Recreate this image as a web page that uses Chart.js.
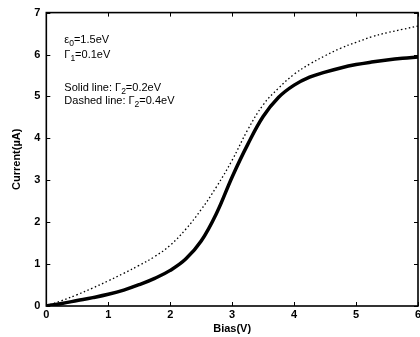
<!DOCTYPE html>
<html>
<head>
<meta charset="utf-8">
<script src="https://cdn.jsdelivr.net/npm/chart.js@4.4.1/dist/chart.umd.min.js"></script>
<style>
  html, body { margin: 0; padding: 0; background: #fff; overflow: hidden; }
  #wrap { width: 430px; height: 337px; }
</style>
</head>
<body>
<div id="wrap"><canvas id="ivChart"></canvas></div>
<script>
// bias points (V)
const bias = [0, 0.25, 0.5, 0.75, 1, 1.25, 1.5, 1.75, 2, 2.25, 2.5, 2.75, 3,
              3.25, 3.5, 3.75, 4, 4.25, 4.5, 4.75, 5, 5.25, 5.5, 5.75, 6];
// Gamma2 = 0.2 eV (solid)
const currentSolid = [0, 0.06, 0.13, 0.20, 0.28, 0.38, 0.51, 0.66, 0.85, 1.12, 1.55, 2.22, 3.08,
                      3.85, 4.52, 4.98, 5.27, 5.46, 5.58, 5.68, 5.76, 5.82, 5.87, 5.91, 5.94];
// Gamma2 = 0.4 eV (dashed)
const currentDashed = [0, 0.13, 0.27, 0.43, 0.60, 0.78, 0.97, 1.18, 1.45, 1.83, 2.30, 2.85, 3.48,
                       4.20, 4.80, 5.20, 5.53, 5.77, 5.97, 6.15, 6.29, 6.42, 6.52, 6.60, 6.68];
const xTicks = [0, 1, 2, 3, 4, 5, 6];
const yTicks = [0, 1, 2, 3, 4, 5, 6, 7];

const toPoints = ys => bias.map((b, i) => ({ x: b, y: ys[i] }));

// inward ticks on all four sides + frame
const frameTicks = {
    id: 'frameTicks',
    afterDraw(chart) {
        const { ctx, chartArea: a, scales } = chart;
        ctx.save();
        ctx.strokeStyle = '#000';
        ctx.lineWidth = 1;
        xTicks.forEach(v => {
            const px = Math.round(scales.x.getPixelForValue(v)) + 0.5;
            ctx.beginPath();
            ctx.moveTo(px, a.bottom); ctx.lineTo(px, a.bottom - 4);
            ctx.moveTo(px, a.top); ctx.lineTo(px, a.top + 4);
            ctx.stroke();
        });
        yTicks.forEach(v => {
            const py = Math.round(scales.y.getPixelForValue(v)) + 0.5;
            ctx.beginPath();
            ctx.moveTo(a.left, py); ctx.lineTo(a.left + 4, py);
            ctx.moveTo(a.right, py); ctx.lineTo(a.right - 4, py);
            ctx.stroke();
        });
        ctx.lineWidth = 1.6;
        ctx.strokeRect(a.left, a.top, a.right - a.left, a.bottom - a.top);
        ctx.restore();
    }
};

// parameter notes, with subscripts
const notes = {
    id: 'notes',
    afterDraw(chart) {
        const { ctx, chartArea: a } = chart;
        const lines = [
            [18, 30, [['ε', 0], ['0', 1], ['=1.5eV', 0]]],
            [18, 45, [['Γ', 0], ['1', 1], ['=0.1eV', 0]]],
            [18, 78, [['Solid line: Γ', 0], ['2', 1], ['=0.2eV', 0]]],
            [18, 91, [['Dashed line: Γ', 0], ['2', 1], ['=0.4eV', 0]]]
        ];
        ctx.save();
        ctx.fillStyle = '#000';
        ctx.textBaseline = 'alphabetic';
        lines.forEach(([dx, dy, parts]) => {
            let x = a.left + dx;
            const y = a.top + dy;
            parts.forEach(([t, sub]) => {
                ctx.font = sub ? '8.5px "Liberation Sans"' : '11px "Liberation Sans"';
                ctx.fillText(t, x, sub ? y + 3 : y);
                x += ctx.measureText(t).width;
            });
        });
        ctx.restore();
    }
};

const ctx = document.getElementById('ivChart').getContext('2d');
const ivChart = new Chart(ctx, {
    type: 'line',
    data: {
        datasets: [{
            data: toPoints(currentSolid),
            borderColor: '#000',
            borderWidth: 3.5,
            pointRadius: 0,
            tension: 0.4
        }, {
            data: toPoints(currentDashed),
            borderColor: '#000',
            borderWidth: 1.3,
            borderDash: [1.5, 2.5],
            pointRadius: 0,
            tension: 0.4
        }]
    },
    options: {
        responsive: true,
        maintainAspectRatio: false,
        animation: false,
        layout: { padding: { left: 5, top: 12, right: 12, bottom: 3 } },
        plugins: {
            legend: { display: false },
            tooltip: { enabled: false }
        },
        scales: {
            x: {
                type: 'linear',
                min: 0, max: 6,
                afterBuildTicks: s => { s.ticks = xTicks.map(v => ({ value: v })); },
                grid: { display: false, drawTicks: false },
                border: { display: false },
                ticks: { color: '#000', padding: 3, maxRotation: 0,
                         font: { family: 'Liberation Sans', size: 11, weight: 'bold', lineHeight: 1 } },
                title: { display: true, text: 'Bias(V)', color: '#000', padding: 0,
                         font: { family: 'Liberation Sans', size: 11, weight: 'bold', lineHeight: 1 } }
            },
            y: {
                type: 'linear',
                min: 0, max: 7,
                afterBuildTicks: s => { s.ticks = yTicks.map(v => ({ value: v })); },
                grid: { display: false, drawTicks: false },
                border: { display: false },
                ticks: { color: '#000', padding: 6,
                         font: { family: 'Liberation Sans', size: 11, weight: 'bold' } },
                title: { display: true, text: 'Current(µA)', color: '#000', padding: 5,
                         font: { family: 'Liberation Sans', size: 11, weight: 'bold' } }
            }
        }
    },
    plugins: [frameTicks, notes]
});
</script>
</body>
</html>
